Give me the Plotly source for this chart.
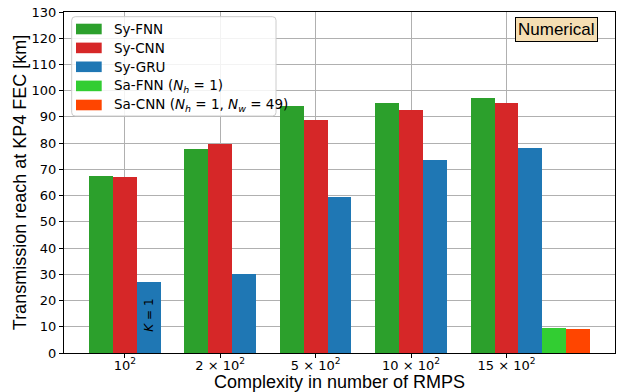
import numpy as np
import plotly.graph_objects as go

# ---- data ----
categories = ["10<sup>2</sup>", "2 × 10<sup>2</sup>", "5 × 10<sup>2</sup>",
              "10 × 10<sup>2</sup>", "15 × 10<sup>2</sup>"]
sy_fnn = [67.5, 77.7, 94.0, 95.3, 97.2]
sy_cnn = [67.1, 79.6, 89.0, 92.6, 95.3]
sy_gru = [27.1, 30.1, 59.5, 73.6, 78.2]
sa_fnn = [9.5]          # only at the 15x10^2 group
sa_cnn = [9.1]          # only at the 15x10^2 group
sa_group = [4]

series_names = ["Sy-FNN", "Sy-CNN", "Sy-GRU",
                "Sa-FNN (<i>N</i><sub><i>h</i></sub> = 1)",
                "Sa-CNN (<i>N</i><sub><i>h</i></sub> = 1, <i>N</i><sub><i>w</i></sub> = 49)"]
colors = ["#2ca02c", "#d62728", "#1f77b4", "#32cd32", "#ff4500"]

W = 0.25
idx = np.arange(len(categories))
sa_idx = np.array(sa_group)

fig = go.Figure()
traces = [
    (idx - W, sy_fnn),
    (idx, sy_cnn),
    (idx + W, sy_gru),
    (sa_idx + 2 * W, sa_fnn),
    (sa_idx + 3 * W, sa_cnn),
]
for (xs, ys), name, c in zip(traces, series_names, colors):
    fig.add_trace(go.Bar(x=xs, y=ys, width=W, name=name, marker_color=c,
                         marker_line_width=0, showlegend=False))

# K = 1 label inside the first Sy-GRU bar
fig.add_annotation(x=idx[0] + W, y=14.5, text="<i>K</i> = 1", textangle=-90,
                   showarrow=False, font=dict(family="DejaVu Sans", size=12, color="black"))

# ---- manual legend (matplotlib-like long patches) ----
lx0, lx1, ly0, ly1 = 71.7, 276, 16.7, 116
PW, PH = 626, 392
ml, mr, mt, mb = 64, 11, 12, 39
pw, ph = PW - ml - mr, PH - mt - mb

def px(x):
    return (x - ml) / pw

def py(y):
    return 1 - (y - mt) / ph

r = 3.5
path = (f"M {px(lx0 + r)},{py(ly0)} L {px(lx1 - r)},{py(ly0)} "
        f"Q {px(lx1)},{py(ly0)} {px(lx1)},{py(ly0 + r)} L {px(lx1)},{py(ly1 - r)} "
        f"Q {px(lx1)},{py(ly1)} {px(lx1 - r)},{py(ly1)} L {px(lx0 + r)},{py(ly1)} "
        f"Q {px(lx0)},{py(ly1)} {px(lx0)},{py(ly1 - r)} L {px(lx0)},{py(ly0 + r)} "
        f"Q {px(lx0)},{py(ly0)} {px(lx0 + r)},{py(ly0)} Z")
fig.add_shape(type="path", xref="paper", yref="paper", path=path,
              line=dict(color="#cccccc", width=1), fillcolor="rgba(255,255,255,0.85)", layer="above")
row_y = [29, 47.9, 66.8, 85.9, 105]
for ry, name, c in zip(row_y, series_names, colors):
    fig.add_shape(type="rect", xref="paper", yref="paper",
                  x0=px(76), x1=px(101.7), y0=py(ry + 5.3), y1=py(ry - 5.3),
                  line_width=0, fillcolor=c, layer="above")
    fig.add_annotation(xref="paper", yref="paper", x=px(112), y=py(ry), text=name,
                       showarrow=False, xanchor="left", yanchor="middle",
                       font=dict(family="DejaVu Sans", size=13.5, color="black"))

# "Numerical" box
fig.add_annotation(xref="paper", yref="paper", x=px(556.5), y=py(29.5), text="Numerical",
                   showarrow=False, xanchor="center", yanchor="middle",
                   font=dict(family="Liberation Sans", size=17, color="black"),
                   bgcolor="#f5deb3", bordercolor="black", borderwidth=1, borderpad=2)

fig.update_layout(
    width=PW, height=PH,
    margin=dict(l=ml, r=mr, t=mt, b=mb, autoexpand=False),
    barmode="overlay", bargap=0,
    plot_bgcolor="white", paper_bgcolor="white",
    font=dict(family="DejaVu Sans", size=13, color="black"),
    showlegend=False,
)
fig.update_xaxes(
    automargin=False,
    range=[-0.6375, 5.1375], tickmode="array", tickvals=idx, ticktext=categories,
    showgrid=True, gridcolor="#b0b0b0", gridwidth=1,
    showline=True, linecolor="black", linewidth=1.3, mirror=True,
    ticks="outside", ticklen=4, tickcolor="black", zeroline=False,
    ticklabelstandoff=-4,
    tickfont=dict(family="DejaVu Sans", size=13),
    title=dict(text="Complexity in number of RMPS", standoff=0,
               font=dict(family="Liberation Sans", size=18)),
)
fig.update_yaxes(
    automargin=False,
    range=[0, 130], tickmode="array", tickvals=list(range(0, 131, 10)),
    showgrid=True, gridcolor="#b0b0b0", gridwidth=1,
    showline=True, linecolor="black", linewidth=1.3, mirror=True,
    ticks="outside", ticklen=4, tickcolor="black", zeroline=False,
    tickfont=dict(family="DejaVu Sans", size=13),
    title=dict(text="Transmission reach at KP4 FEC [km]", standoff=0,
               font=dict(family="Liberation Sans", size=18)),
)

fig.write_html("out.html", config={"displayModeBar": False},
               post_script="document.body.style.margin='0';document.body.style.padding='0';")
